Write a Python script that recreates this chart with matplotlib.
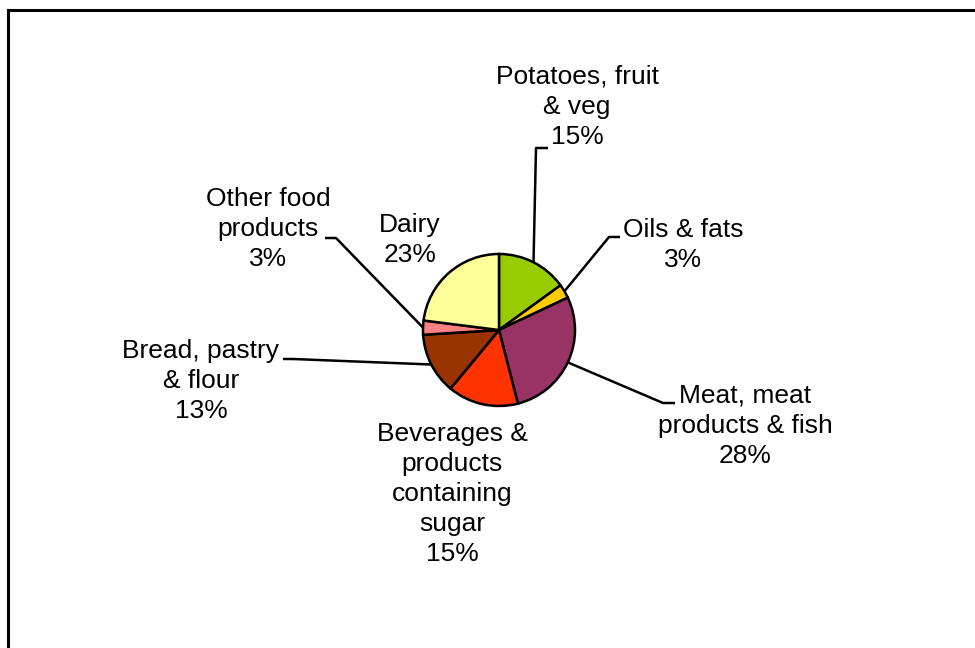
import numpy as np
import matplotlib
matplotlib.use("Agg")
import matplotlib.pyplot as plt

categories = ["Potatoes, fruit\n& veg", "Oils & fats", "Meat, meat\nproducts & fish",
              "Beverages &\nproducts\ncontaining\nsugar", "Bread, pastry\n& flour",
              "Other food\nproducts", "Dairy"]
values = [15, 3, 28, 15, 13, 3, 23]
colors = ["#99CC00", "#FFCC00", "#993366", "#FF3300", "#993300", "#FF8080", "#FFFF99"]

W, H = 975, 648
fig = plt.figure(figsize=(W / 100, H / 100), dpi=100)
ax = fig.add_axes([0, 0, 1, 1])

def Y(y):
    return H - y

cx, cy, r = 499, 330, 76
wedges, _ = ax.pie(values, colors=colors, startangle=90, counterclock=False,
                   center=(cx, Y(cy)), radius=r, frame=True,
                   wedgeprops=dict(edgecolor="black", linewidth=1.8))
ax.set_xlim(0, W)
ax.set_ylim(0, H)
ax.set_aspect("equal")
ax.axis("off")

# label layout: text center, elbow point, elbow end (None = no leader)
layout = [
    ((577, 107), (536, 148), (548, 148)),
    ((683, 245), (609, 237), (620, 237)),
    ((745, 426), (663, 403), (675, 403)),
    ((452, 494), None, None),
    ((201, 381), (293, 359), (283, 359)),
    ((268, 229), (336, 238), (325, 238)),
    ((410, 240), None, None),
]

font = dict(family=["Liberation Sans", "DejaVu Sans"], size=19)
for w, cat, v, (pos, elbow, end) in zip(wedges, categories, values, layout):
    ax.text(pos[0], Y(pos[1]), f"{cat}\n{v}%", ha="center", va="center",
            multialignment="center", linespacing=1.32, color="black", **font)
    if elbow is not None:
        mid = np.deg2rad((w.theta1 + w.theta2) / 2)
        sx, sy = w.center[0] + r * np.cos(mid), w.center[1] + r * np.sin(mid)
        ax.plot([sx, elbow[0], end[0]], [sy, Y(elbow[1]), Y(end[1])],
                color="black", linewidth=1.8, solid_capstyle="butt")

# chart frame (left and top visible)
ax.plot([8, 8], [Y(10), -5], color="black", linewidth=2.2, solid_capstyle="projecting")
ax.plot([8, W + 5], [Y(10), Y(10)], color="black", linewidth=2.2, solid_capstyle="projecting")

fig.savefig("out.png", dpi=100)
